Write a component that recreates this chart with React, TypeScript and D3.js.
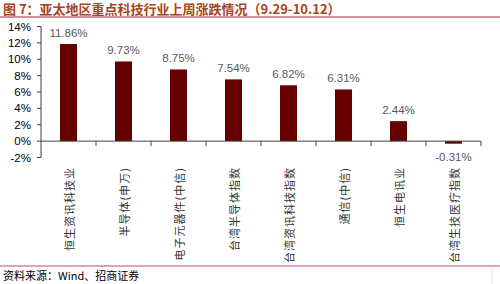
import React from "react";
import * as d3 from "d3";

const categories = [
  "恒生资讯科技业",
  "半导体(申万)",
  "电子元器件(中信)",
  "台湾半导体指数",
  "台湾资讯科技指数",
  "通信(中信)",
  "恒生电讯业",
  "台湾生技医疗指数",
];
const values = [11.86, 9.73, 8.75, 7.54, 6.82, 6.31, 2.44, -0.31];
const yTicks = [-2, 0, 2, 4, 6, 8, 10, 12, 14];

const W = 500;
const H = 284;

export default function App() {
  const x = d3.scaleBand<string>().domain(categories).range([41, 481]).paddingInner(0).paddingOuter(0);
  const y = d3.scaleLinear().domain([-2, 14]).range([157.5, 26.5]);
  const barW = 17;
  const y0 = y(0);
  const bounds = categories.map((c) => (x(c) as number) + x.bandwidth());
  const numFont = "'Liberation Sans', Arial, sans-serif";
  const cjk = "'Noto Sans CJK SC', sans-serif";

  return (
    <svg width={W} height={H} style={{ position: "absolute", left: 0, top: 0, background: "#fff" }}>
      <text x={3} y={13.5} fontFamily={cjk} fontWeight="bold" fontSize={13} fill="#A8431C">
        图 7：亚太地区重点科技行业上周涨跌情况（9.29-10.12）
      </text>
      <line x1={0} x2={500} y1={17} y2={17} stroke="#A0262A" strokeWidth={1} />
      <line x1={0} x2={500} y1={21.5} y2={21.5} stroke="#EEF6F8" strokeWidth={1} />

      {/* y axis */}
      <line x1={41} x2={41} y1={y(14)} y2={y(-2)} stroke="#404040" strokeWidth={1} />
      {yTicks.map((t) => (
        <g key={t}>
          <line x1={37} x2={41} y1={y(t)} y2={y(t)} stroke="#404040" strokeWidth={1} />
          <text x={31} y={y(t)} dy="0.35em" textAnchor="end" fontFamily={numFont} fontSize={11.5} fill="#000">
            {t}%
          </text>
        </g>
      ))}

      {/* bars */}
      {categories.map((c, i) => {
        const cx = (x(c) as number) + x.bandwidth() / 2;
        const v = values[i];
        const top = Math.min(y(v), y0);
        const h = Math.abs(y(v) - y0);
        return (
          <g key={c}>
            <rect x={cx - barW / 2} y={top} width={barW} height={h} fill="#660000" />
            <text
              x={cx}
              y={v >= 0 ? y(v) - 7 : y(v) + 17}
              textAnchor="middle"
              fontFamily={numFont}
              fontSize={11.5}
              fill="#595959"
            >
              {v.toFixed(2)}%
            </text>
            <text
              transform={`translate(${cx},167) rotate(-90)`}
              textAnchor="end"
              dominantBaseline="central"
              fontFamily={cjk}
              fontSize={11}
              letterSpacing={1}
              fill="#333"
            >
              {c}
            </text>
          </g>
        );
      })}

      {/* x axis */}
      <line x1={41} x2={481} y1={y0} y2={y0} stroke="#404040" strokeWidth={1} />
      {bounds.map((b, i) => (
        <line key={i} x1={b} x2={b} y1={y0} y2={y0 + 5} stroke="#404040" strokeWidth={1} />
      ))}

      <line x1={0} x2={500} y1={266} y2={266} stroke="#D0879A" strokeWidth={1.5} />
      <line x1={492} x2={492} y1={268} y2={284} stroke="#E4E4E4" strokeWidth={1} />
      <text x={3} y={280} fontFamily={cjk} fontSize={11} fill="#000">
        资料来源：Wind、招商证券
      </text>
    </svg>
  );
}
